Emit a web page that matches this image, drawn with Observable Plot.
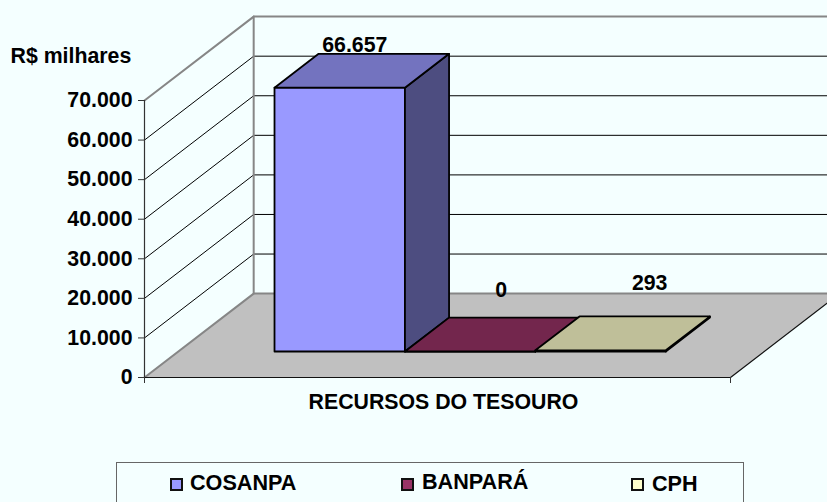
<!DOCTYPE html>
<html><head><meta charset="utf-8">
<script src="https://cdn.jsdelivr.net/npm/d3@7"></script>
<script src="https://cdn.jsdelivr.net/npm/@observablehq/plot@0.6"></script>
<style>
html,body{margin:0;padding:0;background:#F4FFFF;overflow:hidden;width:827px;height:502px}
#legend{position:relative;height:47px;overflow:hidden;font:bold 21.6px "Liberation Sans",Arial,sans-serif;color:#000}
#box{position:absolute;left:116px;top:7px;width:626px;height:60px;border:1px solid #666;box-sizing:content-box}
.sw{position:absolute;top:23px;width:9px;height:9px;border:2px solid #111}
.lb{position:absolute;line-height:24px}
svg{display:block}
</style></head><body>
<div id="chart"></div>
<div id="legend"><div id="box"></div></div>
<script>
const categories = ["COSANPA", "BANPARÁ", "CPH"];
const values = [66657, 0, 293];
const seriesColors = ["#9999FF", "#993366", "#FFFFCC"];
const yTicks = [0, 10000, 20000, 30000, 40000, 50000, 60000, 70000];
const yLabel = "R$ milhares";
const xLabel = "RECURSOS DO TESOURO";

const FONT = '"Liberation Sans", Arial, sans-serif';
const SIZE = 21.3;
const fmt = d3.format(",.0f");
const br = v => fmt(v).replace(/,/g, ".");

// oblique projection of (x, value, depth) on to the two scales
const depthX = 109 / 585, depthV = 21200;
const P = (x, v, z) => ({x: x + z * depthX, y: v + z * depthV});
const poly = (id, fill, pts) => pts.map(p => ({id, fill, ...p}));
const shade = (c, k) => { const r = d3.rgb(c); return d3.rgb(r.r * k, r.g * k, r.b * k).formatHex(); };

const barW = 0.2226, pad = (1 - 3 * barW) / 2 - 0.002, z0 = 0.31, z1 = 0.714;
const bars = values.map((v, i) => ({
  v, x0: pad + i * barW, x1: pad + (i + 1) * barW, color: seriesColors[i], name: categories[i]
}));

const polys = bars.flatMap((b, i) => [
  ...poly(`f${i}`, b.color, [P(b.x0,0,z0), P(b.x1,0,z0), P(b.x1,b.v,z0), P(b.x0,b.v,z0)]),
  ...poly(`s${i}`, shade(b.color,.5), [P(b.x1,0,z0), P(b.x1,0,z1), P(b.x1,b.v,z1), P(b.x1,b.v,z0)]),
  ...poly(`t${i}`, shade(b.color,.75), [P(b.x0,b.v,z0), P(b.x1,b.v,z0), P(b.x1,b.v,z1), P(b.x0,b.v,z1)])
]);

const floor = [P(0,0,0), P(1,0,0), P(1,0,1), P(0,0,1)];
const wallGrid = yTicks.filter(t => t > 0 && t < 70000)
  .flatMap(t => [P(0,t,0), P(0,t,1), P(1.3,t,1)].map(p => ({...p, t})));
const topEdge = [P(0,70000,0), P(0,70000,1), P(1.3,70000,1)];
const baseEdge = [P(0,0,0), P(0,0,1), P(1.3,0,1)];
const backPost = [P(0,0,1), P(0,70000,1)];
const frontEdge = [P(0,0,0), P(1,0,0), P(1,0,1)];

const label = (i, dx, dy) => Plot.text([bars[i]], {
  x: b => P((b.x0 + b.x1) / 2, b.v, (z0 + z1) / 2).x,
  y: b => P(0, b.v, z1).y,
  text: b => br(b.v), dx, dy, lineAnchor: "bottom", fontSize: SIZE, fontWeight: "bold", fill: "#000"
});

const chart = Plot.plot({
  width: 827, height: 455,
  marginLeft: 144, marginRight: 97, marginTop: 100, marginBottom: 78,
  style: {background: "#F4FFFF", fontFamily: FONT},
  x: {domain: [0, 1], axis: null},
  y: {domain: [0, 70000], axis: null},
  color: {type: "identity"},
  marks: [
    Plot.line(floor, {x:"x", y:"y", fill:"#C0C0C0", stroke:"none", curve:"linear-closed"}),
    Plot.line(wallGrid, {x:"x", y:"y", z:"t", stroke:"#000", strokeWidth:1}),
    Plot.line(topEdge, {x:"x", y:"y", stroke:"#868686", strokeWidth:2}),
    Plot.line(baseEdge, {x:"x", y:"y", stroke:"#868686", strokeWidth:2}),
    Plot.line(backPost, {x:"x", y:"y", stroke:"#868686", strokeWidth:2}),
    Plot.line(frontEdge, {x:"x", y:"y", stroke:"#111", strokeWidth:1.2}),
    Plot.line(polys, {x:"x", y:"y", z:"id", fill:"fill", stroke:"#000", strokeWidth:1.8, curve:"linear-closed", strokeLinejoin:"round"}),
    Plot.ruleX([0], {y1:0, y2:70000, stroke:"#333", strokeWidth:1.2}),
    Plot.axisY({ticks: yTicks, tickFormat: br, tickSize: 6, tickPadding: 6, label: null,
      fontSize: SIZE, fontWeight: "bold", fill: "#000", stroke: "#333"}),
    Plot.axisX({ticks: [0, 1], tickFormat: () => "", tickSize: 6, label: null, stroke: "#333"}),
    label(0, -7, -2),
    label(1, 9, -21),
    label(2, 27, -26),
    Plot.text([xLabel], {frameAnchor:"bottom", dx: 6, dy: 31, fontSize: SIZE, fontWeight:"bold", fill:"#000"}),
    Plot.text([yLabel], {frameAnchor:"top-left", textAnchor:"start", dx:-134, dy:-53, fontSize: SIZE, fontWeight:"bold", fill:"#000"})
  ]
});
document.getElementById("chart").appendChild(chart);

const legendX = [[170, 190, 21], [401, 422, 20], [631, 652, 22]];
const lg = document.getElementById("legend");
categories.forEach((c, i) => {
  const sw = document.createElement("div"); sw.className = "sw";
  sw.style.left = legendX[i][0] + "px"; sw.style.background = seriesColors[i];
  const t = document.createElement("div"); t.className = "lb"; t.textContent = c;
  t.style.left = legendX[i][1] + "px"; t.style.top = (legendX[i][2] - 5) + "px";
  lg.append(sw, t);
});
</script>
</body></html>
